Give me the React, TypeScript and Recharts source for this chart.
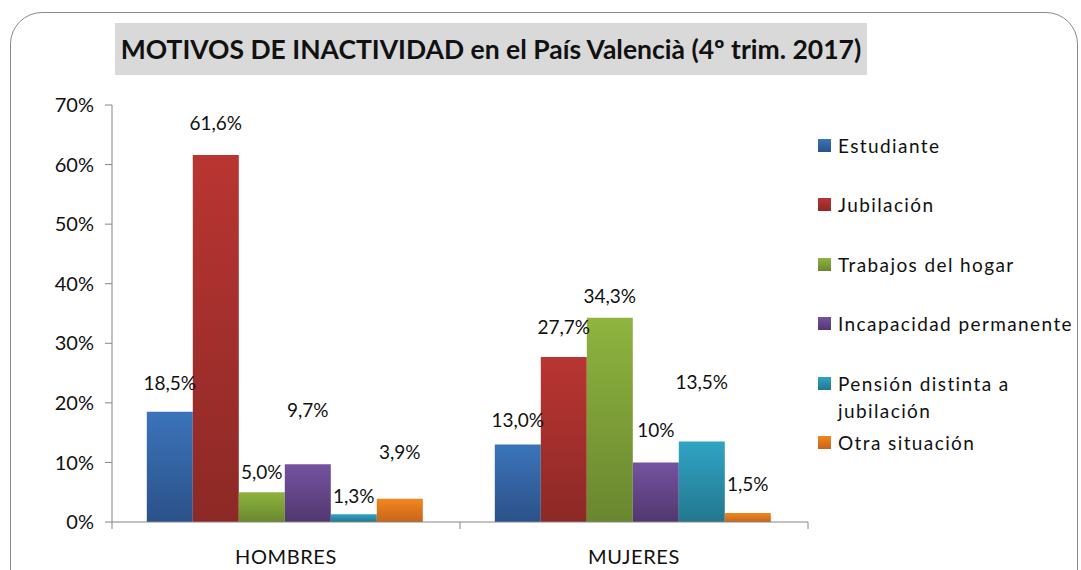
import React from 'react';
import { BarChart, Bar, XAxis, YAxis, Legend, LabelList } from 'recharts';

const categories = ['HOMBRES', 'MUJERES'];

const estudiante = [18.5, 13.0];
const jubilacion = [61.6, 27.7];
const trabajosHogar = [5.0, 34.3];
const incapacidad = [9.7, 10];
const pensionDistinta = [1.3, 13.5];
const otraSituacion = [3.9, 1.5];

// decimals shown in each data label (the sheet prints "10%" but "13,0%")
const estudianteDecimals = [1, 1];
const jubilacionDecimals = [1, 1];
const hogarDecimals = [1, 1];
const incapacidadDecimals = [1, 0];
const pensionDecimals = [1, 1];
const otraDecimals = [1, 1];

const yTicks = [0, 10, 20, 30, 40, 50, 60, 70];

const FONT = 'Lato, "Open Sans", sans-serif';
const AXIS = '#868686';
const X_TICK_SIZE = 6;
const X_TICK_MARGIN = 22;

interface Series {
  key: string;
  name: string;
  legendLabel: string;
  values: number[];
  decimals: number[];
  top: string;
  bottom: string;
  lift: number[]; // label distance above the bar, per category
}

const series: Series[] = [
  { key: 'estudiante', name: 'Estudiante', legendLabel: 'Estudiante', values: estudiante, decimals: estudianteDecimals, top: '#3B74BA', bottom: '#2B5189', lift: [22, 18] },
  { key: 'jubilacion', name: 'Jubilación', legendLabel: 'Jubilación', values: jubilacion, decimals: jubilacionDecimals, top: '#B93532', bottom: '#8C2926', lift: [25, 23] },
  { key: 'hogar', name: 'Trabajos del hogar', legendLabel: 'Trabajos del hogar', values: trabajosHogar, decimals: hogarDecimals, top: '#8FB43F', bottom: '#69872F', lift: [13, 15] },
  { key: 'incapacidad', name: 'Incapacidad permanente', legendLabel: 'Incapacidad permanente', values: incapacidad, decimals: incapacidadDecimals, top: '#7453A0', bottom: '#52376E', lift: [47, 25] },
  { key: 'pension', name: 'Pensión distinta a jubilación', legendLabel: 'Pensión distinta a\njubilación', values: pensionDistinta, decimals: pensionDecimals, top: '#30A3C4', bottom: '#23778F', lift: [11, 53] },
  { key: 'otra', name: 'Otra situación', legendLabel: 'Otra situación', values: otraSituacion, decimals: otraDecimals, top: '#F2871F', bottom: '#C6641A', lift: [40, 22] },
];

const data = categories.map((cat, i) => {
  const row: Record<string, string | number> = { name: cat };
  series.forEach((s) => {
    row[s.key] = s.values[i];
  });
  return row;
});

const makeLabel = (s: Series) => (props: any) => {
  const { x, y, width, value, index } = props;
  const text = `${Number(value).toFixed(s.decimals[index]).replace('.', ',')}%`;
  return (
    <text
      x={Number(x) + Number(width) / 2}
      y={Number(y) - s.lift[index]}
      textAnchor="middle"
      fontSize={19}
      fontFamily={FONT}
      fill="#111"
    >
      {text}
    </text>
  );
};

// category label plus Excel-style tick marks on the category boundaries
const CategoryTick = (props: any) => {
  const { x, y, payload, index, visibleTicksCount } = props;
  const half = payload?.offset ?? 0;
  const axisY = y - X_TICK_SIZE - X_TICK_MARGIN;
  const isLast = index === (visibleTicksCount ?? categories.length) - 1;
  return (
    <g>
      <line x1={x - half} x2={x - half} y1={axisY} y2={axisY + 7} stroke={AXIS} />
      {isLast && <line x1={x + half} x2={x + half} y1={axisY} y2={axisY + 7} stroke={AXIS} />}
      <text
        x={x}
        y={y}
        dy="0.71em"
        textAnchor="middle"
        fontSize={20}
        fill="#111"
        fontFamily={FONT}
        letterSpacing={0.6}
      >
        {payload.value}
      </text>
    </g>
  );
};

const LegendBox = () => (
  <div style={{ fontFamily: FONT, fontSize: 19, letterSpacing: 1.4, color: '#111' }}>
    {series.map((s) => (
      <div key={s.key} style={{ position: 'relative', height: 59.4 }}>
        <div
          style={{
            position: 'absolute',
            left: 0,
            top: 7,
            width: 13,
            height: 13,
            background: `linear-gradient(${s.top}, ${s.bottom})`,
          }}
        />
        <div style={{ position: 'absolute', left: 20, top: 0, lineHeight: '27px', whiteSpace: 'pre' }}>
          {s.legendLabel}
        </div>
      </div>
    ))}
  </div>
);

export default function App() {
  return (
    <div
      style={{
        position: 'absolute',
        left: 0,
        top: 0,
        width: 1081,
        height: 570,
        overflow: 'hidden',
        background: '#fff',
        fontFamily: FONT,
      }}
    >
      <div
        style={{
          position: 'absolute',
          left: 10,
          top: 12,
          width: 1066,
          height: 640,
          border: '1.5px solid #8a8a8a',
          borderRadius: 32,
        }}
      />
      <div
        style={{
          position: 'absolute',
          left: 115,
          top: 23,
          width: 752,
          height: 52,
          background: '#D9D9D9',
          fontWeight: 700,
          fontSize: 26.5,
          lineHeight: '52px',
          textAlign: 'center',
          color: '#111',
          whiteSpace: 'nowrap',
        }}
      >
        MOTIVOS DE INACTIVIDAD en el País Valencià (4º trim. 2017)
      </div>
      <div style={{ position: 'absolute', left: 0, top: 0 }}>
        <BarChart
          width={1081}
          height={570}
          data={data}
          margin={{ top: 105, right: 10, left: 0, bottom: 0 }}
          barCategoryGap="10%"
          barGap={0}
        >
          <defs>
            {series.map((s) => (
              <linearGradient key={s.key} id={`grad-${s.key}`} x1="0" y1="0" x2="0" y2="1">
                <stop offset="0%" stopColor={s.top} />
                <stop offset="100%" stopColor={s.bottom} />
              </linearGradient>
            ))}
          </defs>
          <XAxis
            dataKey="name"
            height={48}
            axisLine={{ stroke: AXIS }}
            tickLine={false}
            tickSize={X_TICK_SIZE}
            tickMargin={X_TICK_MARGIN}
            tick={<CategoryTick />}
          />
          <YAxis
            width={112}
            domain={[0, 70]}
            ticks={yTicks}
            interval={0}
            tickFormatter={(v) => `${v}%`}
            axisLine={{ stroke: AXIS }}
            tickLine={{ stroke: AXIS }}
            tickSize={7}
            tickMargin={11}
            tick={{ fontSize: 20, fill: '#111', fontFamily: FONT }}
          />
          <Legend
            layout="vertical"
            align="right"
            verticalAlign="top"
            content={LegendBox}
            wrapperStyle={{ position: 'absolute', left: 818, top: 132, width: 263 }}
          />
          {series.map((s) => (
            <Bar
              key={s.key}
              dataKey={s.key}
              name={s.name}
              fill={`url(#grad-${s.key})`}
              isAnimationActive={false}
            >
              <LabelList dataKey={s.key} content={makeLabel(s)} />
            </Bar>
          ))}
        </BarChart>
      </div>
    </div>
  );
}
